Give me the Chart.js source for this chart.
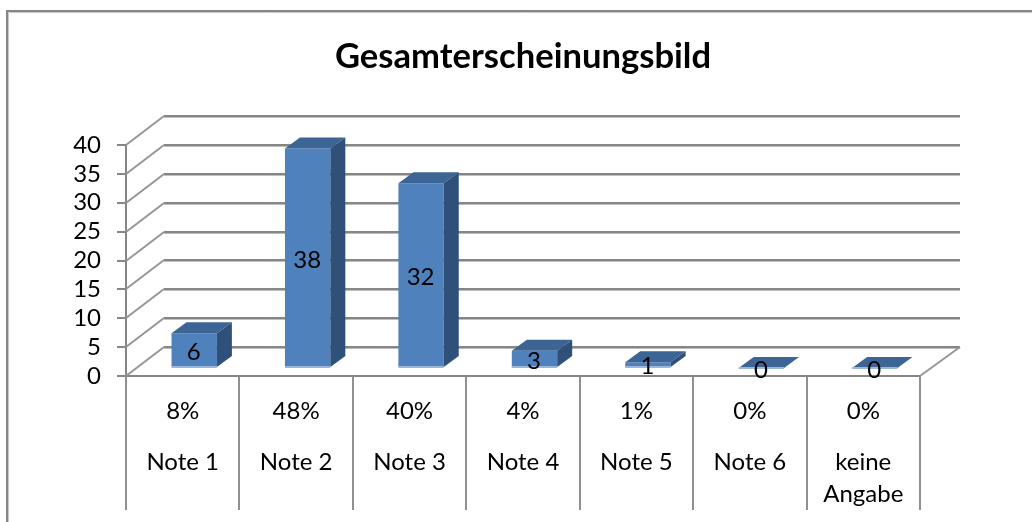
<!DOCTYPE html>
<html>
<head>
<meta charset="utf-8">
<style>html,body{margin:0;padding:0;background:#fff}canvas{display:block}</style>
<script src="https://cdn.jsdelivr.net/npm/chart.js@4"></script>
</head>
<body>
<canvas id="c" width="1032" height="522"></canvas>
<script>
const categories = ['Note 1', 'Note 2', 'Note 3', 'Note 4', 'Note 5', 'Note 6', ['keine', 'Angabe']];
const percentLabels = ['8%', '48%', '40%', '4%', '1%', '0%', '0%'];
const counts = [6, 38, 32, 3, 1, 0, 0];
const titleText = 'Gesamterscheinungsbild';

const FONT = 'Lato';
const GREY = '#868686';
const wall = {dx: 38, dy: -29};      // 3D back wall offset
const barDepth = {dx: 15, dy: -11};  // 3D bar depth
const barShift = {x: 11.5, y: -8};   // bars stand inside the floor

const threeD = {
  id: 'threeD',
  beforeDraw(chart) {
    const ctx = chart.ctx;
    ctx.save();
    ctx.strokeStyle = '#c8c8c8'; ctx.lineWidth = 1;
    ctx.beginPath(); ctx.moveTo(8.5, 522); ctx.lineTo(8.5, 12.5); ctx.lineTo(1032, 12.5); ctx.stroke();
    ctx.strokeStyle = GREY; ctx.lineWidth = 2;
    ctx.beginPath(); ctx.moveTo(7, 522); ctx.lineTo(7, 11); ctx.lineTo(1032, 11); ctx.stroke();
    ctx.restore();
  },
  beforeDatasetsDraw(chart) {
    const {ctx, scales: {x, y}} = chart;
    const l = x.left, r = x.right;
    ctx.save();
    y.ticks.forEach(t => {
      const py = Math.round(y.getPixelForValue(t.value));
      ctx.strokeStyle = '#bdbdbd'; ctx.lineWidth = 1;
      ctx.beginPath(); ctx.moveTo(l + wall.dx, py + wall.dy + 1.5); ctx.lineTo(r + wall.dx + 2, py + wall.dy + 1.5); ctx.stroke();
      ctx.strokeStyle = GREY; ctx.lineWidth = 2;
      ctx.beginPath(); ctx.moveTo(l + wall.dx, py + wall.dy); ctx.lineTo(r + wall.dx + 2, py + wall.dy); ctx.stroke();
      ctx.strokeStyle = '#969696'; ctx.lineWidth = 2;
      ctx.beginPath(); ctx.moveTo(l, py); ctx.lineTo(l + wall.dx, py + wall.dy); ctx.stroke();
    });
    const p0 = y.getPixelForValue(0);
    ctx.strokeStyle = '#969696'; ctx.lineWidth = 2;
    ctx.beginPath(); ctx.moveTo(r, p0); ctx.lineTo(r + wall.dx + 2, p0 + wall.dy); ctx.stroke();
    ctx.restore();
  },
  beforeDatasetDraw(chart) {
    const ctx = chart.ctx;
    ctx.save();
    ctx.translate(barShift.x, barShift.y);
  },
  afterDatasetDraw(chart, args) {
    const ctx = chart.ctx;
    args.meta.data.forEach(bar => {
      const {x, y, base, width} = bar.getProps(['x', 'y', 'base', 'width'], true);
      const left = x - width / 2, right = x + width / 2;
      ctx.fillStyle = '#3c6494';
      ctx.beginPath();
      ctx.moveTo(left, y);
      ctx.lineTo(left + barDepth.dx, y + barDepth.dy);
      ctx.lineTo(right + barDepth.dx, y + barDepth.dy);
      ctx.lineTo(right, y);
      ctx.closePath(); ctx.fill();
      ctx.fillStyle = '#2f5179';
      ctx.beginPath();
      ctx.moveTo(right, y);
      ctx.lineTo(right + barDepth.dx, y + barDepth.dy);
      ctx.lineTo(right + barDepth.dx, base + barDepth.dy);
      ctx.lineTo(right, base);
      ctx.closePath(); ctx.fill();
      ctx.fillStyle = '#9bb8dc';
      ctx.fillRect(left, base - 1, width, 2);
    });
    ctx.restore();
  },
  afterDatasetsDraw(chart) {
    const ctx = chart.ctx;
    const meta = chart.getDatasetMeta(0);
    ctx.save();
    ctx.fillStyle = '#000';
    ctx.font = '24px ' + FONT;
    ctx.textAlign = 'center';
    ctx.textBaseline = 'middle';
    meta.data.forEach((bar, i) => {
      const {x, y, base} = bar.getProps(['x', 'y', 'base'], true);
      ctx.fillText(String(counts[i]), x + barShift.x - 0.5, (y + base) / 2 + barShift.y + 2);
    });
    ctx.restore();
  }
};

new Chart(document.getElementById('c'), {
  type: 'bar',
  data: {
    labels: categories,
    datasets: [{
      data: counts,
      backgroundColor: '#4f81bd',
      borderWidth: 0,
      barPercentage: 0.4,
      categoryPercentage: 1,
      clip: false
    }]
  },
  options: {
    responsive: false,
    animation: false,
    layout: {padding: {left: 0, right: 112, top: 0, bottom: 12}},
    plugins: {
      legend: {display: false},
      tooltip: {enabled: false},
      title: {
        display: true,
        text: titleText,
        fullSize: false,
        color: '#000',
        font: {family: FONT, size: 34.6, weight: 'bold', lineHeight: 1.2},
        padding: {top: 36, bottom: 67.5}
      }
    },
    scales: {
      y: {
        min: 0, max: 40,
        grid: {display: true, drawOnChartArea: false, color: GREY, lineWidth: 2, tickLength: 9},
        border: {display: true, color: GREY, width: 2},
        ticks: {stepSize: 5, autoSkip: false, color: '#000', padding: 16, font: {family: FONT, size: 24}},
        afterFit(s) { s.width = 126; }
      },
      xPct: {
        axis: 'x',
        type: 'category',
        position: 'bottom',
        weight: -1,
        labels: percentLabels,
        offset: true,
        grid: {display: true, drawOnChartArea: false, offset: true, color: '#909090', lineWidth: 2, tickLength: 50},
        border: {display: true, color: GREY, width: 2},
        ticks: {color: '#000', padding: -29, maxRotation: 0, autoSkip: false, font: {family: FONT, size: 24, lineHeight: 1.2}},
        afterFit(s) { s.height = 50; }
      },
      x: {
        position: 'bottom',
        grid: {display: true, drawOnChartArea: false, offset: true, color: '#909090', lineWidth: 2, tickLength: 84},
        border: {display: false},
        ticks: {color: '#000', padding: -64, maxRotation: 0, autoSkip: false, font: {family: FONT, size: 24, lineHeight: '32px'}},
        afterFit(s) { s.height = 84; }
      }
    }
  },
  plugins: [threeD]
});
</script>
</body>
</html>
